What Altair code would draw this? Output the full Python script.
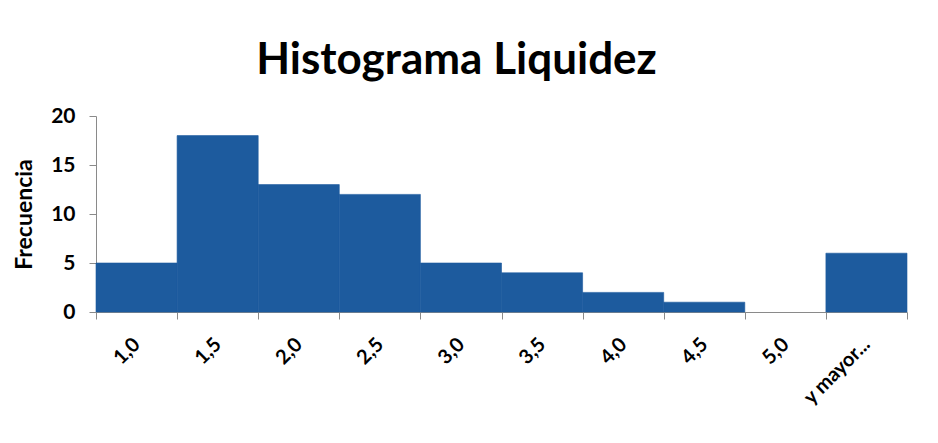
import altair as alt
import pandas as pd

categories = ["1,0", "1,5", "2,0", "2,5", "3,0", "3,5", "4,0", "4,5", "5,0", "y mayor..."]
frecuencia = [5, 18, 13, 12, 5, 4, 2, 1, 0, 6]
y_ticks = [0, 5, 10, 15, 20]

df = pd.DataFrame({"clase": categories, "frecuencia": frecuencia})

FONT = "Lato"
BLUE = "#1d5b9e"

chart = (
    alt.Chart(df)
    .mark_bar(color=BLUE, stroke=BLUE, strokeWidth=0.6)
    .encode(
        x=alt.X(
            "clase:N",
            sort=categories,
            scale=alt.Scale(paddingInner=0, paddingOuter=0),
            axis=alt.Axis(
                title=None,
                labelAngle=315,
                labelAlign="right",
                labelBaseline="middle",
                labelFont=FONT,
                labelFontWeight="bold",
                labelFontSize=20,
                labelColor="#000000",
                labelPadding=22,
                tickBand="extent",
                tickSize=7,
                tickColor="#8a8a8a",
                domainColor="#8a8a8a",
                labelOverlap=False,
            ),
        ),
        y=alt.Y(
            "frecuencia:Q",
            scale=alt.Scale(domain=[0, 20], nice=False),
            axis=alt.Axis(
                title="Frecuencia",
                values=y_ticks,
                grid=False,
                labelFont=FONT,
                labelFontWeight="bold",
                labelFontSize=21,
                labelColor="#000000",
                labelPadding=14,
                tickSize=7,
                tickColor="#8a8a8a",
                domainColor="#8a8a8a",
                titleFont=FONT,
                titleFontWeight="bold",
                titleFontSize=23,
                titleColor="#000000",
                titleAngle=270,
                titleBaseline="middle",
                titleAlign="center",
                titleX=-72,
                titleY=98,
            ),
        ),
        strokeOpacity=alt.condition(
            alt.datum.frecuencia > 0, alt.value(1), alt.value(0)
        ),
    )
    .properties(
        width=811,
        height=196,
        padding={"left": 88, "top": 108, "right": 23, "bottom": 123},
        autosize=alt.AutoSizeParams(type="none"),
        title=alt.TitleParams(
            "Histograma Liquidez",
            font=FONT,
            fontSize=44,
            fontWeight="bold",
            color="#000000",
            anchor="middle",
            frame="group",
            baseline="alphabetic",
            offset=41,
            dx=-45,
            dy=54,
        ),
    )
    .configure_view(strokeWidth=0)
)

chart.save("out.html", embed_options={"renderer": "svg", "actions": False})
